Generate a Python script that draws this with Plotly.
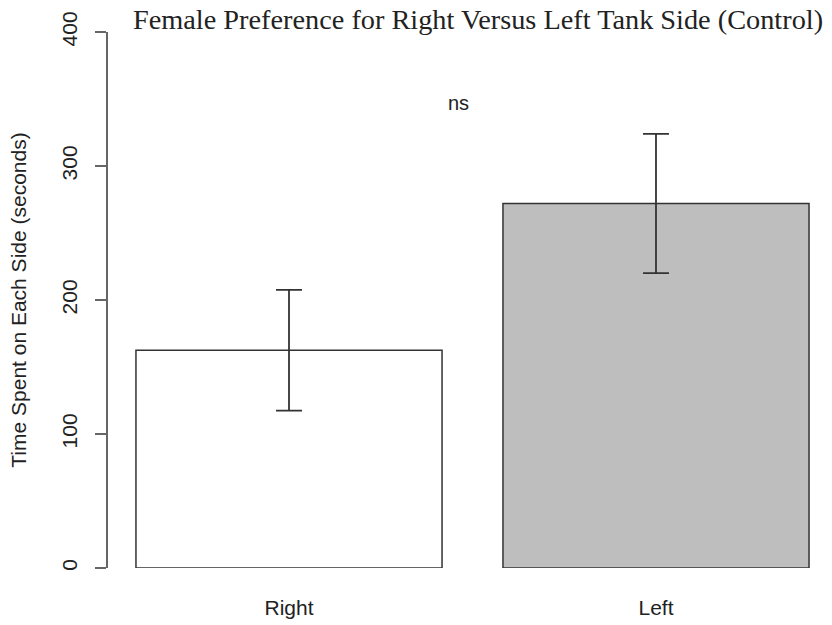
import plotly.graph_objects as go

categories = ["Right", "Left"]
means = [162.5, 272.0]
errors = [45.0, 52.0]
bar_colors = ["#FFFFFF", "#BEBEBE"]
y_ticks = [0, 100, 200, 300, 400]
title_text = "Female Preference for Right Versus Left Tank Side (Control)"
y_title = "Time Spent on Each Side (seconds)"
sig_label = "ns"
sig_value = 347

positions = list(range(len(categories)))

fig_w, fig_h = 832, 625
ml, mr, mt, mb = 108, 0, 32, 57
plot_w = fig_w - ml - mr

fig = go.Figure()
fig.add_trace(go.Bar(
    x=positions,
    y=means,
    width=0.834,
    marker=dict(color=bar_colors, line=dict(color="#333333", width=1.5)),
    error_y=dict(type="data", array=errors, visible=True,
                 color="#333333", thickness=1.8, width=13),
    showlegend=False,
    hoverinfo="skip",
))

fig.add_annotation(
    x=0.4605, y=sig_value, xref="x", yref="y",
    text=sig_label, showarrow=False,
    font=dict(family="Liberation Sans, Arial, sans-serif", size=20, color="#222222"),
    xanchor="center", yanchor="middle",
)

fig.add_annotation(
    x=(478 - ml) / plot_w, y=1, xref="paper", yref="paper",
    text=title_text, showarrow=False,
    font=dict(family="Liberation Serif, Times New Roman, serif", size=28.3, color="#222222"),
    xanchor="center", yanchor="middle", yshift=13,
)

fig.update_layout(
    width=fig_w, height=fig_h,
    margin=dict(l=ml, r=mr, t=mt, b=mb, autoexpand=False),
    paper_bgcolor="white", plot_bgcolor="white",
    font=dict(family="Liberation Sans, Arial, sans-serif", size=21, color="#222222"),
)

fig.update_xaxes(
    range=[-0.4932, 1.4796],
    tickvals=positions, ticktext=categories,
    showline=False, showgrid=False, zeroline=False,
    ticks="", ticklabelstandoff=25,
    tickfont=dict(size=21),
)

fig.update_yaxes(
    range=[0, 400],
    tickvals=y_ticks,
    showline=True, linecolor="#666666", linewidth=1.5,
    ticks="outside", ticklen=11, tickcolor="#666666", tickwidth=1.5,
    tickangle=-90, ticklabelstandoff=10,
    showgrid=False, zeroline=False,
    tickfont=dict(size=21),
    title=dict(text=y_title, font=dict(size=21), standoff=25),
)

fig.write_html("out.html", config={"displayModeBar": False},
               post_script="document.body.style.margin='0';")
